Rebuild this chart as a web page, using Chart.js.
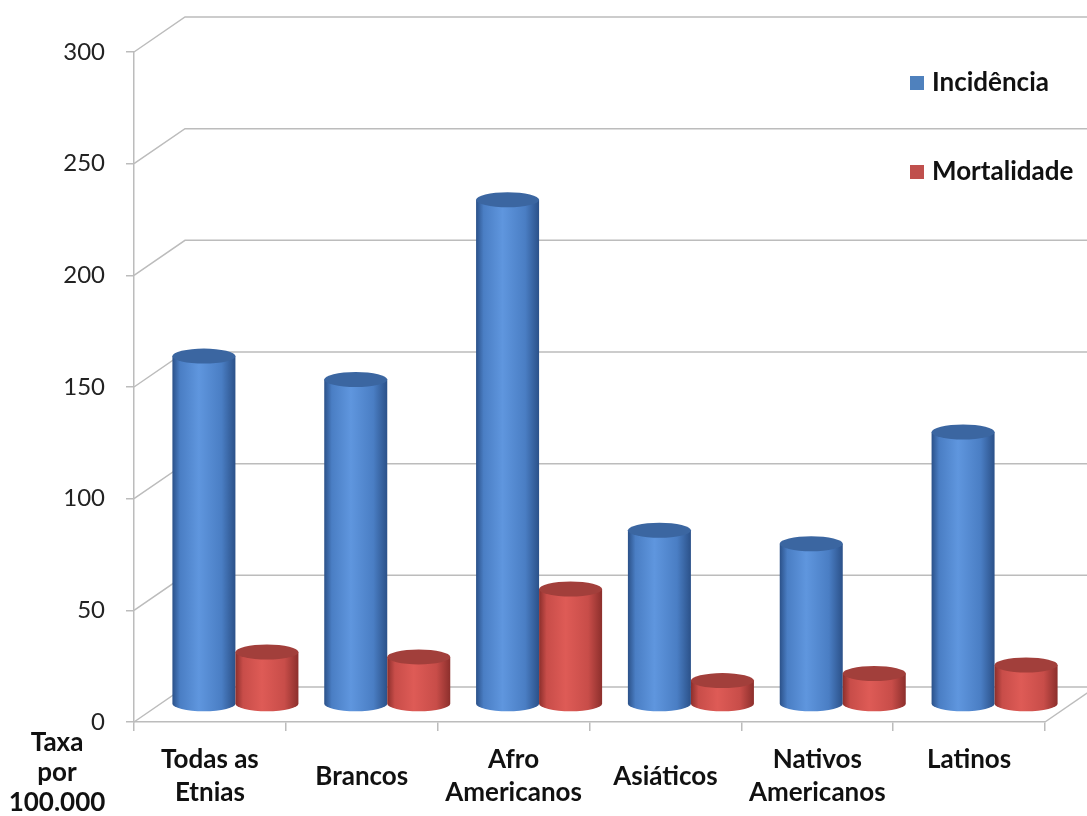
<!DOCTYPE html>
<html>
<head>
<meta charset="utf-8">
<title>Incidência e Mortalidade por 100.000</title>
<script src="https://cdn.jsdelivr.net/npm/chart.js@4.4.1/dist/chart.umd.min.js"></script>
<style>
	html, body { margin: 0; padding: 0; background: #fff; }
	#grafico { display: block; }
</style>
</head>
<body>
<canvas id="grafico" width="1087" height="816"></canvas>
<script>
// dados
const categorias = [
	["Todas as", "Etnias"],
	"Brancos",
	["Afro", "Americanos"],
	"Asiáticos",
	["Nativos", "Americanos"],
	["Latinos", ""],
];
const incidencia = [156, 145.5, 226, 78, 72, 122];
const mortalidade = [23.5, 21.3, 51.7, 10.7, 13.9, 17.7];
const tituloEixoY = ["Taxa", "por", "100.000"];

const FONTE = "Lato, 'Open Sans', sans-serif";
const GRADE = "#bcbcbc";
// deslocamento da parede do fundo (profundidade 3D)
const PROF_X = 51;
const PROF_Y = -35;

const cores = {
	azul: { claro: "#5f96de", medio: "#4a7ec4", escuro: "#2b5189", topo: "#3b66a1", legenda: "#4f81bd" },
	vermelho: { claro: "#de5b56", medio: "#c84d49", escuro: "#8c2f2c", topo: "#a23f3b", legenda: "#c0504d" },
};

function desenhaCilindro(ctx, cx, topo, base, r, ry, c) {
	const esq = cx - r;
	const dir = cx + r;
	const grad = ctx.createLinearGradient(esq, 0, dir, 0);
	grad.addColorStop(0, c.escuro);
	grad.addColorStop(0.12, c.medio);
	grad.addColorStop(0.42, c.claro);
	grad.addColorStop(0.78, c.medio);
	grad.addColorStop(1, c.escuro);

	ctx.beginPath();
	ctx.moveTo(esq, topo);
	ctx.lineTo(esq, base);
	ctx.ellipse(cx, base, r, ry, 0, Math.PI, 0, true);
	ctx.lineTo(dir, topo);
	ctx.closePath();
	ctx.fillStyle = grad;
	ctx.fill();

	ctx.beginPath();
	ctx.ellipse(cx, topo, r, ry, 0, 0, Math.PI * 2);
	ctx.fillStyle = c.topo;
	ctx.fill();
}

const cenario3d = {
	id: "cenario3d",
	beforeDatasetsDraw(chart) {
		const { ctx, chartArea } = chart;
		const y = chart.scales.y;
		ctx.save();
		ctx.strokeStyle = GRADE;
		ctx.lineWidth = 1.5;
		y.ticks.forEach((t) => {
			const py = y.getPixelForValue(t.value);
			ctx.beginPath();
			ctx.moveTo(chartArea.left, py);
			ctx.lineTo(chartArea.left + PROF_X, py + PROF_Y);
			ctx.lineTo(chart.width, py + PROF_Y);
			ctx.stroke();
		});
		const chao = y.getPixelForValue(0);
		ctx.beginPath();
		ctx.moveTo(chartArea.right, chao);
		ctx.lineTo(chartArea.right + PROF_X, chao + PROF_Y);
		ctx.stroke();
		ctx.restore();
	},
	beforeDatasetDraw() {
		// as barras são desenhadas como cilindros abaixo
		return false;
	},
	afterDatasetsDraw(chart) {
		const ctx = chart.ctx;
		const metas = chart.data.datasets.map((ds, i) => chart.getDatasetMeta(i));
		ctx.save();
		for (let j = 0; j < chart.data.labels.length; j++) {
			metas.forEach((meta, i) => {
				const el = meta.data[j];
				const p = el.getProps(["x", "y", "base", "width"], true);
				const cx = p.x + PROF_X / 2;
				const topo = p.y + PROF_Y / 2;
				const base = p.base + PROF_Y / 2;
				desenhaCilindro(ctx, cx, topo, base, p.width / 2, 7.5, chart.data.datasets[i].cores3d);
			});
		}
		ctx.restore();
	},
	afterDraw(chart) {
		const ctx = chart.ctx;
		ctx.save();
		// legenda
		const legendaY = [83, 172];
		ctx.font = "bold 26px " + FONTE;
		ctx.textBaseline = "middle";
		ctx.textAlign = "left";
		chart.data.datasets.forEach((ds, i) => {
			ctx.fillStyle = ds.backgroundColor;
			ctx.fillRect(910, legendaY[i] - 7, 14, 14);
			ctx.fillStyle = "#111";
			ctx.fillText(ds.label, 932, legendaY[i]);
		});
		// título do eixo
		ctx.textAlign = "center";
		tituloEixoY.forEach((linha, i) => {
			ctx.fillText(linha, 57, 743 + i * 30);
		});
		ctx.restore();
	},
};

const grafico = new Chart(document.getElementById("grafico"), {
	type: "bar",
	data: {
		labels: categorias,
		datasets: [
			{
				label: "Incidência",
				data: incidencia,
				backgroundColor: cores.azul.legenda,
				cores3d: cores.azul,
			},
			{
				label: "Mortalidade",
				data: mortalidade,
				backgroundColor: cores.vermelho.legenda,
				cores3d: cores.vermelho,
			},
		],
	},
	options: {
		responsive: false,
		animation: false,
		layout: { padding: { top: 52, right: 42, left: 0, bottom: 0 } },
		datasets: {
			bar: { categoryPercentage: 0.83, barPercentage: 1 },
		},
		plugins: {
			legend: { display: false },
			tooltip: { enabled: false },
		},
		scales: {
			x: {
				offset: true,
				grid: {
					offset: true,
					drawOnChartArea: false,
					color: GRADE,
					lineWidth: 1.5,
					tickLength: 9,
				},
				border: { color: GRADE, width: 1.5 },
				ticks: {
					color: "#111",
					font: { family: FONTE, size: 26, weight: "bold", lineHeight: 1.27 },
					padding: 29,
					crossAlign: "center",
					maxRotation: 0,
					autoSkip: false,
				},
				afterFit(scale) {
					scale.height = 94;
				},
			},
			y: {
				min: 0,
				max: 300,
				ticks: {
					stepSize: 50,
					color: "#222",
					font: { family: FONTE, size: 24 },
					padding: 21,
				},
				grid: {
					drawOnChartArea: false,
					color: GRADE,
					lineWidth: 1.5,
					tickLength: 8,
				},
				border: { color: GRADE, width: 1.5 },
				afterFit(scale) {
					scale.width = 134;
				},
			},
		},
	},
	plugins: [cenario3d],
});
</script>
</body>
</html>
